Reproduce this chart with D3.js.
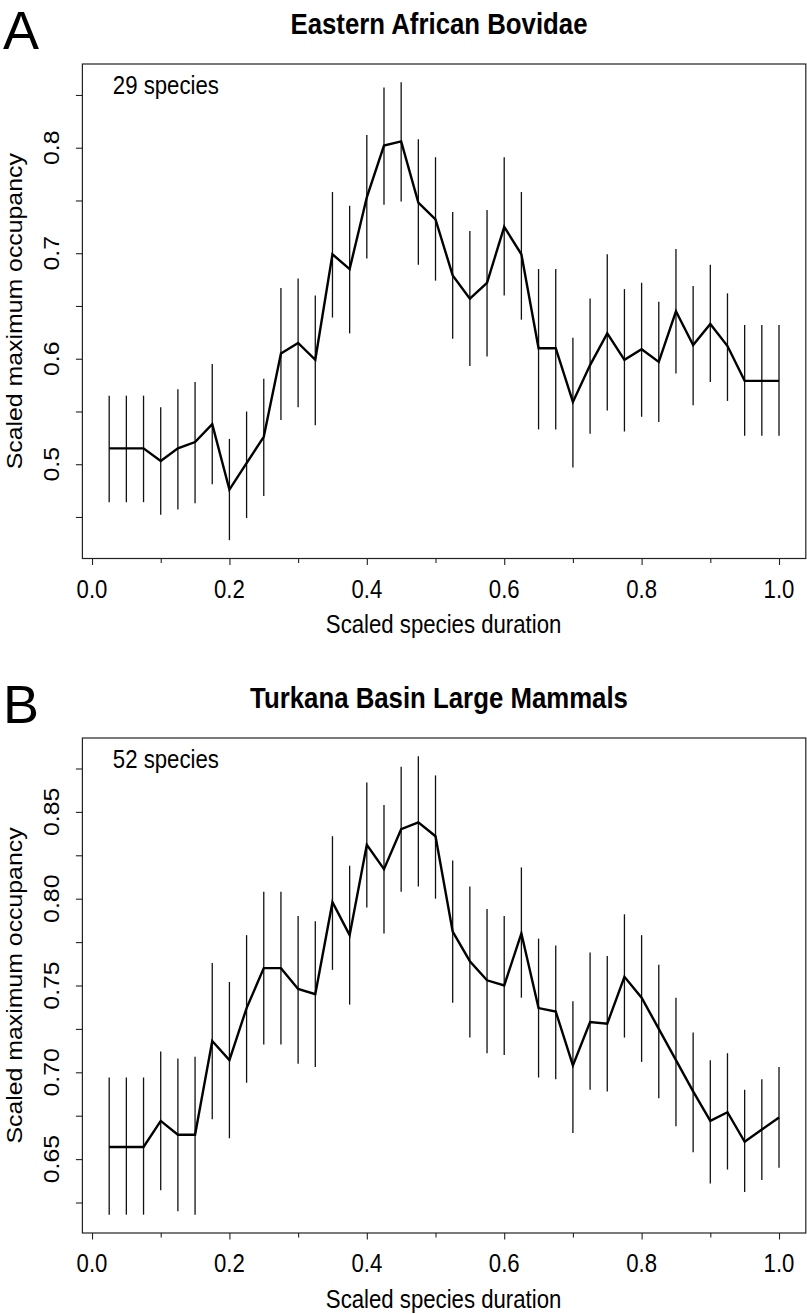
<!DOCTYPE html>
<html><head><meta charset="utf-8">
<script src="https://cdn.jsdelivr.net/npm/d3@7"></script>
<style>body{margin:0;background:#fff} svg{display:block} text{font-family:"Liberation Sans",Arial,Helvetica,sans-serif;fill:#000}</style>
</head><body><svg id="c" width="807" height="1314"></svg>
<script>
const durations = [0.025,0.05,0.075,0.1,0.125,0.15,0.175,0.2,0.225,0.25,0.275,0.3,0.325,0.35,0.375,0.4,0.425,0.45,0.475,0.5,0.525,0.55,0.575,0.6,0.625,0.65,0.675,0.7,0.725,0.75,0.775,0.8,0.825,0.85,0.875,0.9,0.925,0.95,0.975,1.0];

const meanA  = [0.515,0.515,0.515,0.503,0.515,0.521,0.538,0.476,0.501,0.526,0.605,0.615,0.599,0.699,0.685,0.753,0.802,0.806,0.748,0.732,0.679,0.657,0.672,0.725,0.699,0.610,0.610,0.559,0.594,0.624,0.599,0.609,0.597,0.645,0.613,0.633,0.612,0.579,0.579,0.579];
const lowerA = [0.464,0.464,0.464,0.452,0.457,0.463,0.481,0.428,0.449,0.470,0.542,0.554,0.537,0.639,0.624,0.695,0.746,0.749,0.689,0.674,0.619,0.593,0.602,0.660,0.637,0.533,0.533,0.497,0.529,0.551,0.531,0.545,0.540,0.586,0.556,0.578,0.560,0.527,0.527,0.527];
const upperA = [0.565,0.565,0.565,0.554,0.571,0.578,0.595,0.524,0.550,0.581,0.667,0.676,0.660,0.758,0.745,0.812,0.857,0.862,0.808,0.791,0.739,0.721,0.741,0.791,0.758,0.685,0.685,0.620,0.657,0.699,0.666,0.672,0.654,0.704,0.669,0.689,0.662,0.632,0.632,0.632];

const meanB  = [0.657,0.657,0.657,0.672,0.664,0.664,0.718,0.707,0.737,0.760,0.760,0.748,0.745,0.798,0.779,0.831,0.817,0.840,0.844,0.836,0.781,0.764,0.753,0.750,0.780,0.737,0.735,0.704,0.729,0.728,0.755,0.743,0.725,0.707,0.689,0.672,0.677,0.660,0.667,0.674];
const lowerB = [0.618,0.618,0.618,0.632,0.620,0.618,0.673,0.662,0.694,0.716,0.716,0.705,0.703,0.759,0.739,0.795,0.780,0.804,0.807,0.800,0.740,0.720,0.711,0.710,0.743,0.697,0.696,0.665,0.690,0.689,0.720,0.706,0.685,0.669,0.654,0.636,0.644,0.631,0.638,0.645];
const upperB = [0.697,0.697,0.697,0.712,0.708,0.709,0.763,0.752,0.779,0.804,0.804,0.790,0.787,0.836,0.819,0.867,0.854,0.876,0.882,0.871,0.822,0.807,0.794,0.790,0.818,0.777,0.773,0.741,0.769,0.767,0.791,0.779,0.762,0.743,0.723,0.707,0.711,0.690,0.696,0.703];

const xMajorTicks = [0, 0.2, 0.4, 0.6, 0.8, 1.0];
const xMinorTicks = [0.1, 0.3, 0.5, 0.7, 0.9];
const yMajorTicksA = [0.5, 0.6, 0.7, 0.8];
const yMinorTicksA = [0.45, 0.55, 0.65, 0.75, 0.85];
const yMajorTicksB = [0.65, 0.70, 0.75, 0.80, 0.85];
const yMinorTicksB = [0.625, 0.675, 0.725, 0.775, 0.825, 0.875];

const panels = [
  {letter:"A", title:"Eastern African Bovidae", note:"29 species", mean:meanA, lower:lowerA, upper:upperA,
   yMajor:yMajorTicksA, yMinor:yMinorTicksA, fmt:d3.format(".1f"), top:64, bottom:558.5},
  {letter:"B", title:"Turkana Basin Large Mammals", note:"52 species", mean:meanB, lower:lowerB, upper:upperB,
   yMajor:yMajorTicksB, yMinor:yMinorTicksB, fmt:d3.format(".2f"), top:738, bottom:1233}
];

const svg = d3.select("#c");
const left = 82.4, right = 805.8;
const fs = 22.2, sy = 1.12;

function ext(lo, hi){ const d=(hi-lo)*0.04; return [lo-d, hi+d]; }
function hText(g, x, y, str, size, opts={}) {
  const t = g.append("text").attr("transform",`translate(${x},${y}) scale(1,${sy})`)
    .attr("font-size",size).attr("text-anchor",opts.anchor||"start").text(str);
  if (opts.bold) t.attr("font-weight","bold");
  return t;
}
function vText(g, x, y, str, size) {
  return g.append("text").attr("transform",`translate(${x},${y}) rotate(-90) scale(${sy},1)`)
    .attr("dy","0.36em").attr("font-size",size).attr("text-anchor","middle").text(str);
}

panels.forEach(p => {
  const x = d3.scaleLinear().domain(ext(d3.min(durations), d3.max(durations))).range([left, right]);
  const y = d3.scaleLinear().domain(ext(d3.min(p.lower), d3.max(p.upper))).range([p.bottom, p.top]);
  const g = svg.append("g");

  // box
  g.append("rect").attr("x", left).attr("y", p.top).attr("width", right-left).attr("height", p.bottom-p.top)
    .attr("fill","none").attr("stroke","#222").attr("stroke-width",1.2);

  // x axis ticks
  const gx = g.append("g").attr("transform",`translate(0,${p.bottom})`)
    .call(d3.axisBottom(x).tickValues(xMajorTicks).tickSize(6.5).tickSizeOuter(0).tickFormat(""));
  gx.select(".domain").remove();
  gx.selectAll(".tick line").attr("stroke","#222").attr("stroke-width",1.1);
  const gxm = g.append("g").attr("transform",`translate(0,${p.bottom})`)
    .call(d3.axisBottom(x).tickValues(xMinorTicks).tickSize(4.5).tickSizeOuter(0).tickFormat(""));
  gxm.select(".domain").remove();
  gxm.selectAll(".tick line").attr("stroke","#222").attr("stroke-width",1.1);
  xMajorTicks.forEach(v => hText(g, x(v), p.bottom+39, d3.format(".1f")(v), fs, {anchor:"middle"}));

  // y axis ticks
  const gy = g.append("g").attr("transform",`translate(${left},0)`)
    .call(d3.axisLeft(y).tickValues(p.yMajor).tickSize(6.5).tickSizeOuter(0).tickFormat(""));
  gy.select(".domain").remove();
  gy.selectAll(".tick line").attr("stroke","#222").attr("stroke-width",1.1);
  const gym = g.append("g").attr("transform",`translate(${left},0)`)
    .call(d3.axisLeft(y).tickValues(p.yMinor).tickSize(6.5).tickSizeOuter(0).tickFormat(""));
  gym.select(".domain").remove();
  gym.selectAll(".tick line").attr("stroke","#222").attr("stroke-width",1.1);
  p.yMajor.forEach(v => vText(g, 50.5, y(v), p.fmt(v), fs));

  // axis titles
  hText(g, (left+right)/2 - 0.5, p.bottom+74.5, "Scaled species duration", fs, {anchor:"middle"});
  vText(g, 13.5, (p.top+p.bottom)/2, "Scaled maximum occupancy", fs);

  // title
  hText(g, 439, p.top-30, p.title, 25.8, {anchor:"middle", bold:true});
  // panel letter
  g.append("text").attr("x",3).attr("y",p.top-15).attr("font-size",54).text(p.letter);
  // note
  hText(g, 112.8, p.top+30, p.note, fs);

  // error bars
  g.append("g").selectAll("line").data(durations).join("line")
    .attr("x1",(d)=>x(d)).attr("x2",(d)=>x(d))
    .attr("y1",(d,i)=>y(p.lower[i])).attr("y2",(d,i)=>y(p.upper[i]))
    .attr("stroke","#111").attr("stroke-width",1.3);

  // mean line
  const line = d3.line().x((d)=>x(d[0])).y((d)=>y(d[1]));
  g.append("path").datum(durations.map((d,i)=>[d,p.mean[i]])).attr("d",line)
    .attr("fill","none").attr("stroke","#000").attr("stroke-width",2.4).attr("stroke-linejoin","miter");
});
</script></body></html>
